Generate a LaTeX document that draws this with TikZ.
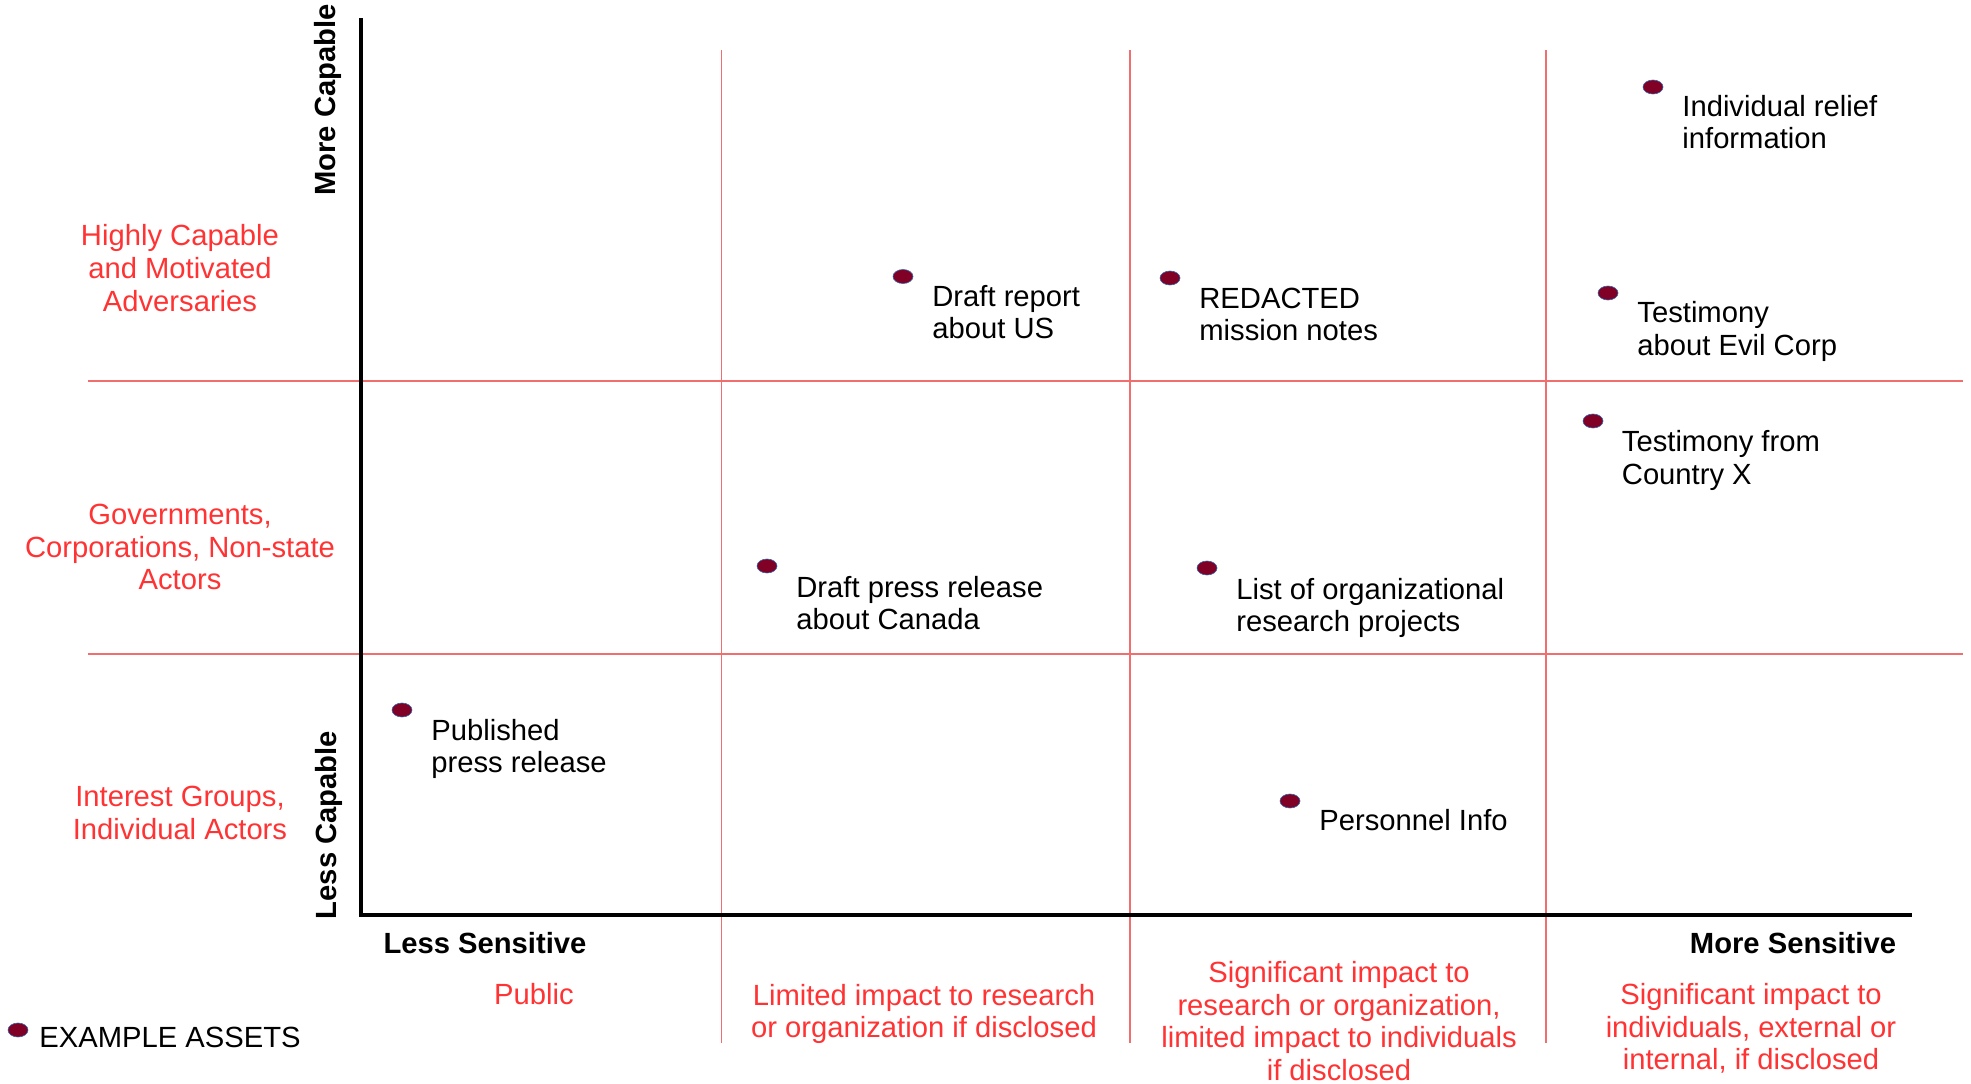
\documentclass[tikz,border=0pt]{standalone}
\usepackage{fontspec}
\setmainfont{Liberation Sans}
\usetikzlibrary{shapes.geometric}
\definecolor{lab}{RGB}{255,51,51}
\definecolor{gridc}{RGB}{240,110,110}
\definecolor{dotfill}{RGB}{128,0,38}
\definecolor{dotline}{RGB}{52,101,164}
\begin{document}
\begin{tikzpicture}[x=0.5pt,y=-0.5pt, font=\fontsize{14.6}{16.3}\selectfont,
 asset/.style={ellipse, fill=dotfill, draw=dotline, line width=0.3pt, minimum width=10pt, minimum height=7pt, inner sep=0},
 atext/.style={anchor=west, align=left, inner sep=0},
 cat/.style={text=lab, align=center, inner sep=0},
 axlab/.style={font=\fontsize{14.6}{16.3}\selectfont\bfseries, inner sep=0},
 gridline/.style={gridc, line width=0.6pt},
 axis/.style={black, line width=2pt}]
\useasboundingbox (0,0) rectangle (1971,1083);
% grid
\coordinate (h1a) at (88,381); \coordinate (h1b) at (1963,381);
\coordinate (h2a) at (88,654); \coordinate (h2b) at (1963,654);
\coordinate (v1a) at (721.5,50); \coordinate (v1b) at (721.5,1043);
\coordinate (v2a) at (1130,50); \coordinate (v2b) at (1130,1043);
\coordinate (v3a) at (1546,50); \coordinate (v3b) at (1546,1043);
\draw[gridline] (h1a) -- (h1b);
\draw[gridline] (h2a) -- (h2b);
\draw[gridline] (v1a) -- (v1b);
\draw[gridline] (v2a) -- (v2b);
\draw[gridline] (v3a) -- (v3b);
% axes
\coordinate (ytop) at (361,18);
\coordinate (orig) at (361,915);
\coordinate (xend) at (1912,915);
\draw[axis] (ytop) -- (orig) -- (xend);
\node[axlab, rotate=90] (morecap) at (328,100) {More Capable};
\node[axlab, rotate=90] (lesscap) at (329,825) {Less Capable};
\node[axlab] (lesssens) at (485,943) {Less Sensitive};
\node[axlab] (moresens) at (1793,943) {More Sensitive};
% row categories
\node[cat] (r1) at (180,268) {Highly Capable\\and Motivated\\Adversaries};
\node[cat] (r2) at (180,547) {Governments,\\Corporations, Non-state\\Actors};
\node[cat] (r3) at (180,813) {Interest Groups,\\Individual Actors};
% column categories
\node[cat] (c1) at (534,994) {Public};
\node[cat] (c2) at (924,1014) {Limited impact to research\\or organization if disclosed};
\node[cat] (c3) at (1339,1021) {Significant impact to\\research or organization,\\limited impact to individuals\\if disclosed};
\node[cat] (c4) at (1751,1028.5) {Significant impact to\\individuals, external or\\internal, if disclosed};
% assets
\node[asset] (d1) at (1653,87) {};
\node[atext] (t1) at (1682,122) {Individual relief\\information};
\node[asset] (d2) at (903,276.5) {};
\node[atext] (t2) at (932,312) {Draft report\\about US};
\node[asset] (d3) at (1170,278) {};
\node[atext] (t3) at (1199,314.5) {REDACTED\\mission notes};
\node[asset] (d4) at (1608,293) {};
\node[atext] (t4) at (1637,331.5) {Testimony\\about Evil Corp};
\node[asset] (d5) at (1593,421) {};
\node[atext] (t5) at (1621.5,460.5) {Testimony from\\Country X};
\node[asset] (d6) at (767,566) {};
\node[atext] (t6) at (796,603) {Draft press release\\about Canada};
\node[asset] (d7) at (1207,568) {};
\node[atext] (t7) at (1236,608) {List of organizational\\research projects};
\node[asset] (d8) at (402,710) {};
\node[atext] (t8) at (431,749) {Published\\press release};
\node[asset] (d9) at (1290,801) {};
\node[atext] (t9) at (1319,820) {Personnel Info};
% legend
\node[asset] (dl) at (18,1030) {};
\node[atext] (tl) at (39,1037) {EXAMPLE ASSETS};
\end{tikzpicture}
\end{document}
